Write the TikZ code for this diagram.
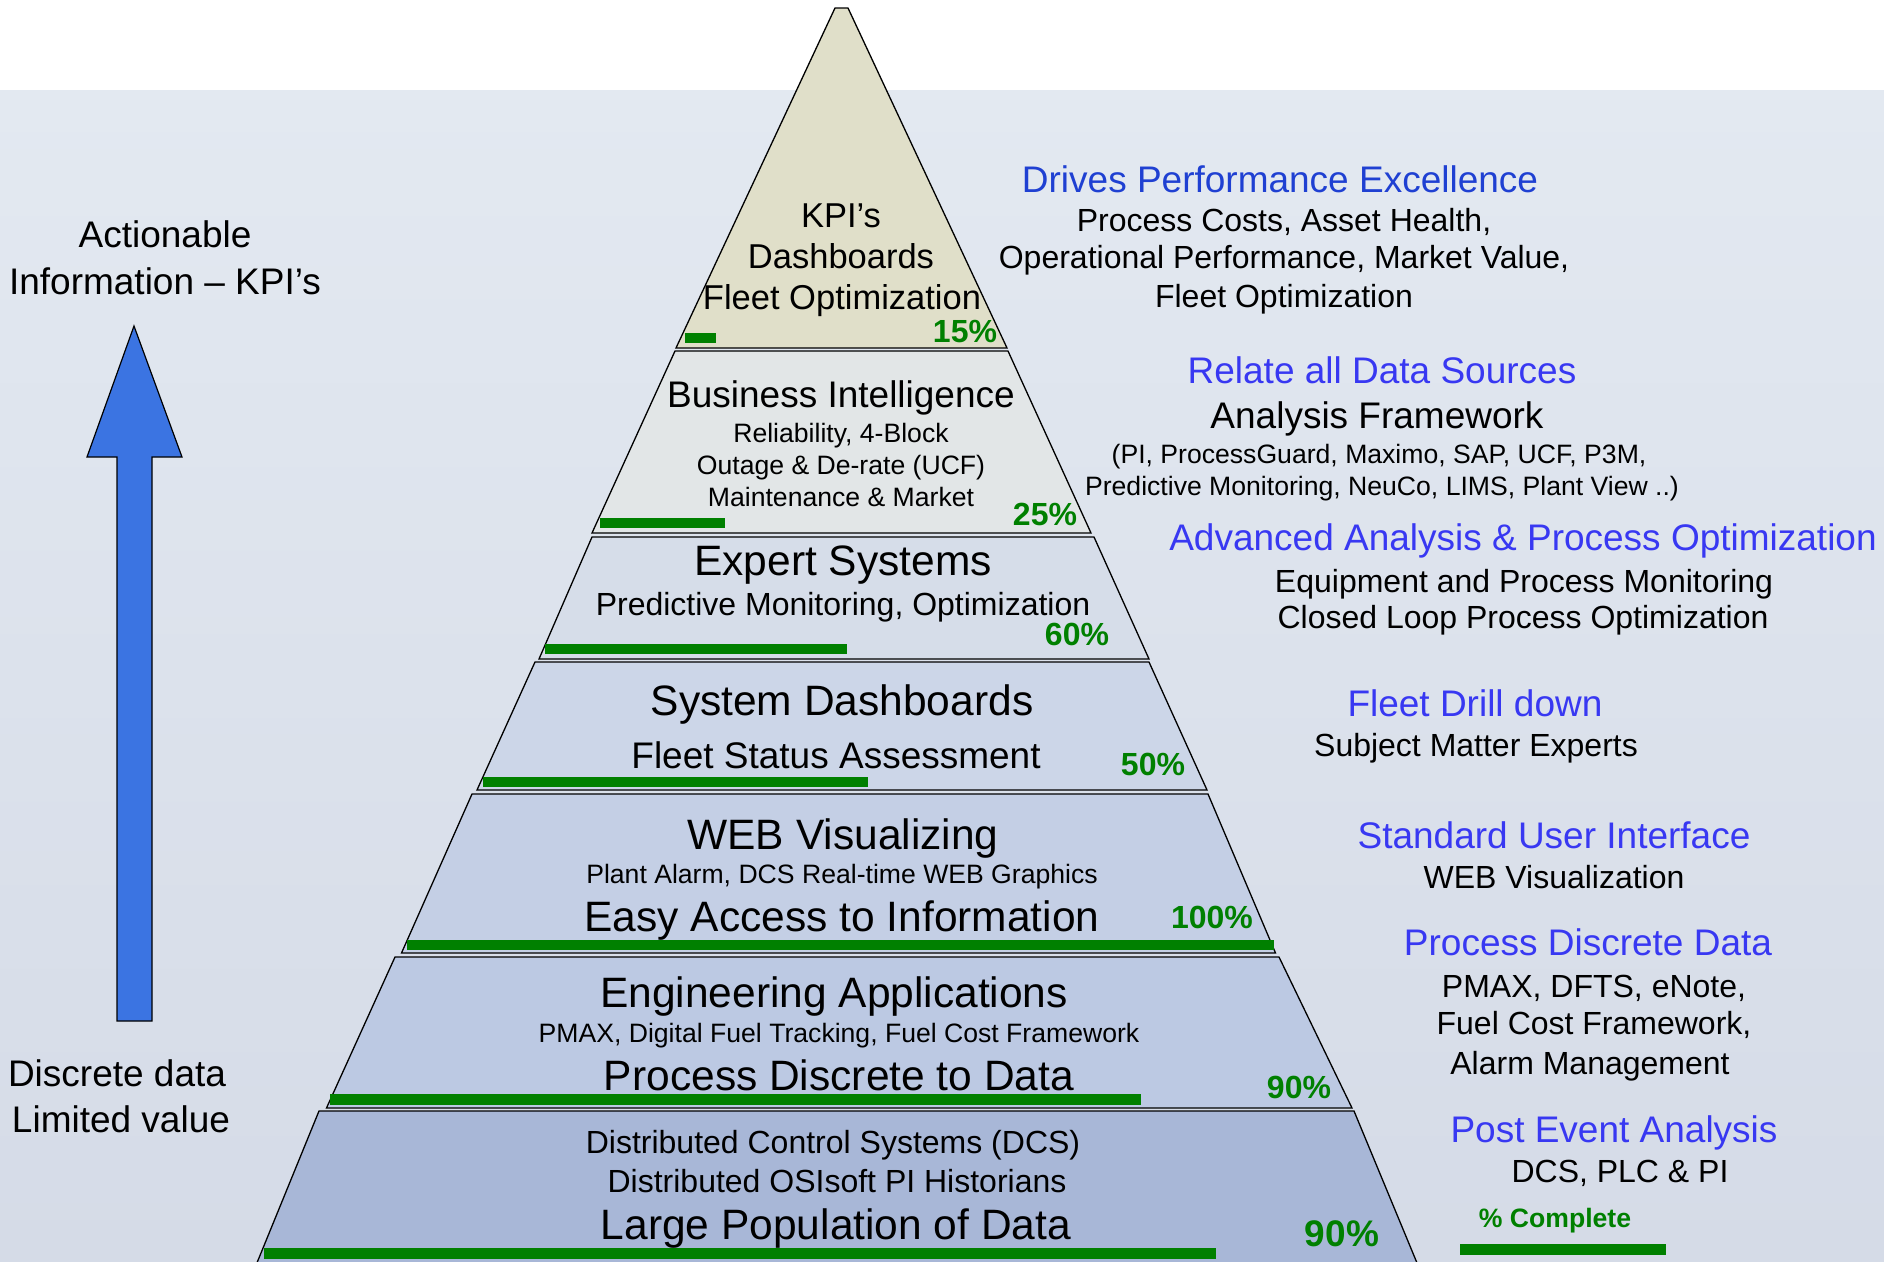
\documentclass[tikz,border=0pt]{standalone}
\usepackage{fontspec}
\setmainfont{Liberation Sans}
\newcommand\fsz[1]{\fontsize{#1}{#1}\selectfont}
\definecolor{bgtop}{HTML}{E3E9F1}
\definecolor{bgbot}{HTML}{D5DBE7}
\definecolor{tA}{HTML}{E0DFC9}
\definecolor{tB}{HTML}{E2E6E7}
\definecolor{tC}{HTML}{D6DDE9}
\definecolor{tD}{HTML}{CCD6E8}
\definecolor{tE}{HTML}{C4CFE5}
\definecolor{tF}{HTML}{BCC9E3}
\definecolor{tG}{HTML}{A8B7D7}
\definecolor{pgreen}{HTML}{008000}
\definecolor{dblue}{HTML}{1F40D2}
\definecolor{hblue}{HTML}{3838F2}
\definecolor{arrblue}{HTML}{3B74E2}
\tikzset{
  lbl/.style={anchor=base, inner sep=0pt, outer sep=0pt, text=black},
  fbig/.style={lbl, font=\fsz{42.5}},
  fmed/.style={lbl, font=\fsz{37}},
  fmid/.style={lbl, font=\fsz{34.5}},
  fsm/.style={lbl, font=\fsz{32}},
  ftiny/.style={lbl, font=\fsz{26.6}},
  head/.style={fmed, text=hblue},
  pct/.style={lbl, text=pgreen, font=\bfseries\fsz{32}},
  tierbox/.style={draw=black, line width=1.3pt, line join=miter},
  bar/.style={fill=pgreen, draw=none},
  bigarrow/.style={fill=arrblue, draw=black, line width=1.2pt}
}
\begin{document}
\begin{tikzpicture}[x=1pt,y=-1pt]
\useasboundingbox (0,0) rectangle (1884,1261);
% background
\fill[white] (0,0) rectangle (1884,90);
\shade[top color=bgtop, bottom color=bgbot] (0,90) rectangle (1884,1261);

% pyramid tiers
\path[tierbox, fill=tA] (835,8) -- (848,8) -- (1007,348) -- (676,348) -- cycle;
\path[tierbox, fill=tB] (675,351) -- (1008,351) -- (1091,533) -- (592,533) -- cycle;
\path[tierbox, fill=tC] (592,537) -- (1094,537) -- (1149,659) -- (539,659) -- cycle;
\path[tierbox, fill=tD] (535,662) -- (1149,662) -- (1207,790) -- (477,790) -- cycle;
\path[tierbox, fill=tE] (472,794) -- (1208,794) -- (1275.5,953) -- (401.5,953) -- cycle;
\path[tierbox, fill=tF] (395,957) -- (1279,957) -- (1352,1108) -- (326.5,1108) -- cycle;
\path[tierbox, fill=tG] (319,1111) -- (1354,1111) -- (1422,1275) -- (252,1275) -- cycle;

% progress bars
\fill[bar] (685,333) rectangle (716,343);
\fill[bar] (600,518) rectangle (725,528);
\fill[bar] (545,644) rectangle (847,654);
\fill[bar] (483,777) rectangle (868,787);
\fill[bar] (407,940) rectangle (1274,950);
\fill[bar] (330,1094) rectangle (1141,1105);
\fill[bar] (264,1248) rectangle (1216,1259);

% tier 1
\node[fmid] (kpi) at (841,227) {KPI’s};
\node[fmid] (dash) at (841,268) {Dashboards};
\node[fmid] (fleetopt) at (842,309) {Fleet Optimization};
\node[pct] (p15) at (965,342) {15\%};
% tier 2
\node[fmed] (bi) at (841,407) {Business Intelligence};
\node[ftiny] (rel) at (841,442) {Reliability, 4-Block};
\node[ftiny] (outage) at (841,474) {Outage \& De-rate (UCF)};
\node[ftiny] (maint) at (841,506) {Maintenance \& Market};
\node[pct] (p25) at (1045,525) {25\%};
% tier 3
\node[fbig] (expert) at (843,575) {Expert Systems};
\node[fsm] (predopt) at (843,615) {Predictive Monitoring, Optimization};
\node[pct] (p60) at (1077,645) {60\%};
% tier 4
\node[fbig] (sysdash) at (842,715) {System Dashboards};
\node[fmed] (fsa) at (836,768) {Fleet Status Assessment};
\node[pct] (p50) at (1153,775) {50\%};
% tier 5
\node[fbig] (webvis) at (843,849) {WEB Visualizing};
\node[ftiny] (plant) at (842,883) {Plant Alarm, DCS Real-time WEB Graphics};
\node[fbig] (easy) at (842,931) {Easy Access to Information};
\node[pct] (p100) at (1212,928) {100\%};
% tier 6
\node[fbig] (eng) at (834,1007) {Engineering Applications};
\node[ftiny] (pmax) at (839,1042) {PMAX, Digital Fuel Tracking, Fuel Cost Framework};
\node[fbig] (pdd) at (839,1090) {Process Discrete to Data};
\node[pct] (p90a) at (1299,1098) {90\%};
% tier 7
\node[fsm] (dcs) at (833,1153) {Distributed Control Systems (DCS)};
\node[fsm] (osi) at (837,1192) {Distributed OSIsoft PI Historians};
\node[fbig] (large) at (836,1239) {Large Population of Data};
\node[pct, font=\bfseries\fsz{37}] (p90b) at (1342,1246) {90\%};

% right column
\node[fmed, text=dblue] (drives) at (1280,192) {Drives Performance Excellence};
\node[fsm] (pc) at (1284,231) {Process Costs, Asset Health,};
\node[fsm] (op) at (1284,268) {Operational Performance, Market Value,};
\node[fsm] (fo) at (1284,307) {Fleet Optimization};

\node[head] (relate) at (1382,383) {Relate all Data Sources};
\node[fmed] (af) at (1377,428) {Analysis Framework};
\node[ftiny] (pi) at (1379,463) {(PI, ProcessGuard, Maximo, SAP, UCF, P3M,};
\node[ftiny] (pm) at (1382,495) {Predictive Monitoring, NeuCo, LIMS, Plant View ..)};

\node[head] (adv) at (1523,550) {Advanced Analysis \& Process Optimization};
\node[fsm] (eq) at (1524,592) {Equipment and Process Monitoring};
\node[fsm] (cl) at (1523,628) {Closed Loop Process Optimization};

\node[head] (fdd) at (1475,716) {Fleet Drill down};
\node[fsm] (sme) at (1476,756) {Subject Matter Experts};

\node[head] (sui) at (1554,848) {Standard User Interface};
\node[fsm] (wv) at (1554,888) {WEB Visualization};

\node[head] (pdd2) at (1588,955) {Process Discrete Data};
\node[fsm] (pmx) at (1594,997) {PMAX, DFTS, eNote,};
\node[fsm] (fcf) at (1594,1034) {Fuel Cost Framework,};
\node[fsm] (am) at (1590,1074) {Alarm Management};

\node[head] (pea) at (1614,1142) {Post Event Analysis};
\node[fsm] (dpp) at (1620,1182) {DCS, PLC \& PI};

\node[lbl, text=pgreen, font=\bfseries\fsz{26.6}] (legend) at (1555,1227) {\% Complete};
\fill[bar] (1460,1244) rectangle (1666,1255);

% left column
\node[fmed] (act) at (165,247) {Actionable};
\node[fmed] (info) at (165,294) {Information – KPI’s};
\draw[bigarrow] (134,326) -- (182,457) -- (152,457) -- (152,1021) -- (117,1021) -- (117,457) -- (87,457) -- cycle;
\node[fmed] (disc) at (117,1086) {Discrete data};
\node[fmed] (lim) at (121,1132) {Limited value};
\end{tikzpicture}
\end{document}
